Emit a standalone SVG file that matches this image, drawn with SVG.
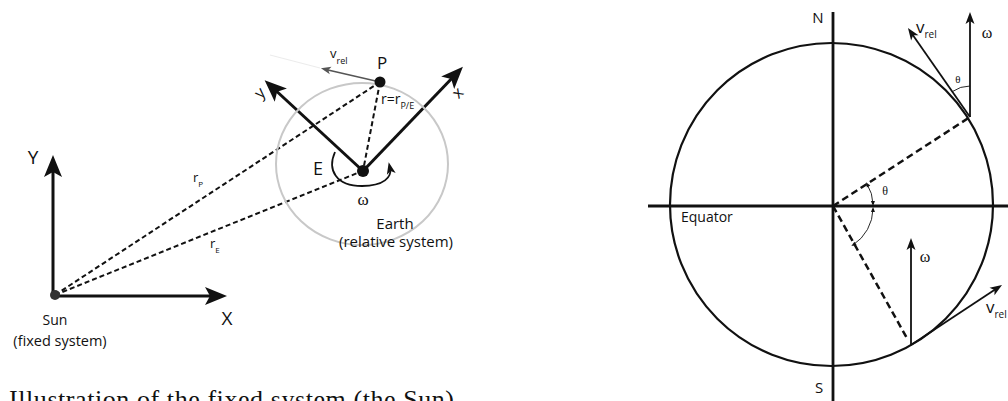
<svg xmlns="http://www.w3.org/2000/svg" width="1008" height="401" viewBox="0 0 1008 401">
<style>
.sans{font-family:"Open Sans","DejaVu Sans",sans-serif;fill:#111}
.serif{font-family:"Liberation Serif","DejaVu Serif",serif;fill:#111}
.thick{stroke:#111;stroke-width:3;fill:none}
.dash{stroke:#111;stroke-width:2;stroke-dasharray:5 3;fill:none}
.dash2{stroke:#111;stroke-width:2.5;stroke-dasharray:7 4;fill:none}
.thin{stroke:#111;stroke-width:1.8;fill:none}
.hair{stroke:#111;stroke-width:0.9;fill:none}
</style>
<defs>
<marker id="big" markerUnits="userSpaceOnUse" viewBox="-14 -10 26 20" refX="0" refY="0" markerWidth="26" markerHeight="20" orient="auto">
<path d="M10,0 L-12,-9 L-7,0 L-12,9 Z" fill="#111"/>
</marker>
<marker id="small" markerUnits="userSpaceOnUse" viewBox="-8 -6 16 12" refX="0" refY="0" markerWidth="16" markerHeight="12" orient="auto">
<path d="M6,0 L-6,-4.5 L-3,0 L-6,4.5 Z" fill="#111"/>
</marker>
<marker id="smallgray" markerUnits="userSpaceOnUse" viewBox="-8 -6 16 12" refX="0" refY="0" markerWidth="16" markerHeight="12" orient="auto">
<path d="M5,0 L-5,-3.8 L-2.5,0 L-5,3.8 Z" fill="#555"/>
</marker>
<marker id="tiny" markerUnits="userSpaceOnUse" viewBox="-4 -3 8 6" refX="0" refY="0" markerWidth="8" markerHeight="6" orient="auto">
<path d="M2,0 L-3,-2 L-3,2 Z" fill="#111"/>
</marker>
<marker id="tinyStart" markerUnits="userSpaceOnUse" viewBox="-4 -3 8 6" refX="0" refY="0" markerWidth="8" markerHeight="6" orient="auto-start-reverse">
<path d="M2,0 L-3,-2 L-3,2 Z" fill="#111"/>
</marker>
</defs>

<!-- Left diagram -->
<g id="connectors">
<line class="dash" x1="55" y1="295" x2="380" y2="82"/>
<line class="dash" x1="55" y1="295" x2="360" y2="172"/>
<line class="dash" x1="380" y1="82" x2="363" y2="171"/>
<line x1="320" y1="68" x2="270" y2="55" stroke="#ececec" stroke-width="1.2"/>
<line x1="380" y1="82" x2="325.8" y2="69.4" stroke="#555" stroke-width="1.5" marker-end="url(#smallgray)"/>
<line class="thick" x1="53" y1="296" x2="53" y2="165" marker-end="url(#big)"/>
<line class="thick" x1="53" y1="296" x2="217" y2="296" marker-end="url(#big)"/>
<line class="thick" x1="363" y1="171" x2="456" y2="74" marker-end="url(#big)"/>
<line class="thick" x1="363" y1="171" x2="272" y2="87" marker-end="url(#big)"/>
<path class="thin" d="M335,152 C327,170 336,186 362,186 C384,186 392,177 390,168" marker-end="url(#small)"/>
</g>

<g id="earth">
<ellipse cx="362" cy="164" rx="86" ry="81" fill="none" stroke="#c8c8c8" stroke-width="2"/>
<text class="sans" x="395" y="229" font-size="15" text-anchor="middle">Earth</text>
<text class="sans" x="396" y="247" font-size="15" text-anchor="middle">(relative system)</text>
</g>

<g id="sun">
<circle cx="55" cy="295" r="5" fill="#333"/>
<text class="sans" x="55" y="325" font-size="14" text-anchor="middle">Sun</text>
<text class="sans" x="60" y="346" font-size="14.5" text-anchor="middle">(fixed system)</text>
</g>

<g id="E">
<circle cx="363" cy="171" r="6" fill="#111"/>
<text class="sans" x="318" y="175" font-size="18" text-anchor="middle">E</text>
</g>

<g id="P">
<circle cx="380" cy="82" r="5.5" fill="#111"/>
<text class="sans" x="382" y="69" font-size="17" text-anchor="middle">P</text>
</g>

<g id="left-labels">
<text class="sans" x="33" y="164" font-size="19" text-anchor="middle">Y</text>
<text class="sans" x="227" y="325" font-size="19" text-anchor="middle">X</text>
<text class="sans" x="458" y="98" font-size="16" text-anchor="middle" transform="rotate(-45 458 93)">x</text>
<text class="sans" x="260" y="98" font-size="16" text-anchor="middle" transform="rotate(-45 260 93)">y</text>
<text class="sans" x="330" y="58" font-size="13">v<tspan font-size="9" dy="6">rel</tspan></text>
<text class="sans" x="381" y="104" font-size="14">r=r<tspan font-size="9" dy="5">P/E</tspan></text>
<text class="sans" x="193" y="182" font-size="13">r<tspan font-size="8" dy="5">P</tspan></text>
<text class="sans" x="210" y="248" font-size="13">r<tspan font-size="8" dy="5">E</tspan></text>
<text class="serif" x="363" y="205" font-size="17" text-anchor="middle">ω</text>
</g>

<!-- Right diagram -->
<g id="globe">
<circle cx="831.5" cy="204.5" r="161.5" fill="none" stroke="#111" stroke-width="2.2"/>
<line x1="833" y1="12" x2="833" y2="401" stroke="#111" stroke-width="2.8"/>
<line x1="648" y1="206" x2="1008" y2="206" stroke="#111" stroke-width="2.8"/>
<text class="sans" x="818" y="23" font-size="15" text-anchor="middle">N</text>
<text class="sans" x="819" y="393" font-size="15" text-anchor="middle">S</text>
<text class="sans" x="681" y="222" font-size="14">Equator</text>
</g>

<g id="globe-connectors">
<line class="dash2" x1="833" y1="206" x2="970" y2="117"/>
<line class="dash2" x1="833" y1="206" x2="908" y2="340"/>
<line class="thin" x1="970" y1="117" x2="970" y2="18" marker-end="url(#small)"/>
<line class="thin" x1="970" y1="117" x2="911.4" y2="32.9" marker-end="url(#small)"/>
<line class="thin" x1="911" y1="345" x2="911" y2="244" marker-end="url(#small)"/>
<line class="thin" x1="911" y1="345" x2="997" y2="288.3" marker-end="url(#small)"/>
<path class="hair" d="M952.3,91.6 A31,31 0 0 1 970,86"/>
<path class="hair" d="M867,184 A40,40 0 0 1 873,204" marker-start="url(#tinyStart)" marker-end="url(#tiny)"/>
<path class="hair" d="M873,209 A44,44 0 0 1 853,245" marker-start="url(#tinyStart)" marker-end="url(#tiny)"/>
</g>

<g id="globe-labels">
<text class="sans" x="916" y="33" font-size="17">v<tspan font-size="10" dy="5">rel</tspan></text>
<text class="serif" x="987" y="38" font-size="16" text-anchor="middle">ω</text>
<text class="serif" x="958" y="83" font-size="11" text-anchor="middle">θ</text>
<text class="serif" x="885" y="195" font-size="12" text-anchor="middle">θ</text>
<text class="serif" x="925" y="262" font-size="16" text-anchor="middle">ω</text>
<text class="sans" x="986" y="313" font-size="17">v<tspan font-size="10" dy="5">rel</tspan></text>
</g>

<g id="caption">
<text class="serif" x="9" y="408" font-size="26" textLength="445" lengthAdjust="spacing">Illustration of the fixed system (the Sun)</text>
</g>
</svg>
